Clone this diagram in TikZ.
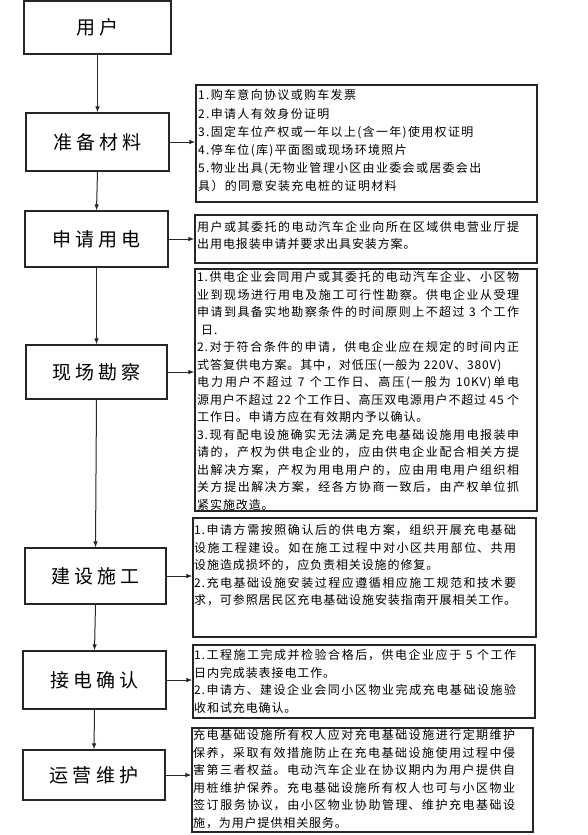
\documentclass[tikz,border=0pt]{standalone}
\usepackage{fontspec}
\usetikzlibrary{arrows.meta}
\newfontfamily\cjk[LetterSpace=7]{Noto Sans CJK SC}
\newfontfamily\cjkwide[LetterSpace=11]{Noto Sans CJK SC}
\newfontfamily\cjkbig[LetterSpace=22]{Noto Sans CJK SC}
\XeTeXlinebreaklocale "zh"
\XeTeXlinebreakskip=0.9pt plus 1pt minus 0.6pt
\begin{document}
\begin{tikzpicture}[x=1pt,y=-1pt,
  stage/.style={draw=black!85,line width=1.1pt,font=\cjkbig\fontsize{19}{21}\selectfont,inner sep=0pt},
  info/.style={draw=black!85,line width=1.1pt,inner sep=0pt},
  txt/.style={anchor=north west,inner sep=0pt,text width=322pt,align=justify,font=\cjk\fontsize{12}{17.5}\selectfont},
  listtxt/.style={anchor=north west,inner sep=0pt,align=left,font=\cjkwide\fontsize{12}{18.2}\selectfont},
  flow/.style={draw=black!85,line width=1pt,-{Latex[length=6pt,width=4.5pt]}}]
\useasboundingbox (0,0) rectangle (588,835);
\fill[white] (0,0) rectangle (588,835);

% left stages
\node[stage,minimum width=147pt,minimum height=53pt] (u) at (97.5,27.5) {用户};
\node[stage,minimum width=143pt,minimum height=58pt] (b) at (97.5,142) {准备材料};
\node[stage,minimum width=143pt,minimum height=56pt] (s) at (96.5,239) {申请用电};
\node[stage,minimum width=141pt,minimum height=54pt] (x) at (96.5,372) {现场勘察};
\node[stage,minimum width=141pt,minimum height=56pt] (j) at (95.5,576) {建设施工};
\node[stage,minimum width=143pt,minimum height=58pt] (d) at (94.5,680) {接电确认};
\node[stage,minimum width=142pt,minimum height=50pt] (y) at (94,775) {运营维护};

% right boxes
\node[info,minimum width=341pt,minimum height=117pt] (r1) at (366.5,143.5) {};
\node[info,minimum width=342pt,minimum height=48pt] (r2) at (366,239) {};
\node[info,minimum width=342pt,minimum height=242pt] (r3) at (366,390) {};
\node[info,minimum width=343pt,minimum height=119pt] (r4) at (364.5,577.5) {};
\node[info,minimum width=342pt,minimum height=73pt] (r5) at (364,681.5) {};
\node[info,minimum width=341pt,minimum height=104pt] (r6) at (362.5,780) {};

% texts
\node[listtxt] (t1) at (198,89.5) {1.购车意向协议或购车发票\\
2.申请人有效身份证明\\
3.固定车位产权或一年以上(含一年)使用权证明\\
4.停车位(库)平面图或现场环境照片\\
5.物业出具(无物业管理小区由业委会或居委会出\\
具）的同意安装充电桩的证明材料};

\node[txt] (t2) at (197,221) {用户或其委托的电动汽车企业向所在区域供电营业厅提\linebreak
出用电报装申请并要求出具安装方案。};

\node[txt] (t3) at (197,271.5) {1.供电企业会同用户或其委托的电动汽车企业、小区物\linebreak
业到现场进行用电及施工可行性勘察。供电企业从受理\linebreak
申请到具备实地勘察条件的时间原则上不超过 3 个工作\linebreak
\hspace*{4pt}日.\\
2.对于符合条件的申请，供电企业应在规定的时间内正\linebreak
式答复供电方案。其中，对低压(一般为 220V、380V)\\
电力用户不超过 7 个工作日、高压(一般为 10KV)单电\linebreak
源用户不超过 22 个工作日、高压双电源用户不超过 45 个\linebreak
工作日。申请方应在有效期内予以确认。\\
3.现有配电设施确实无法满足充电基础设施用电报装申\linebreak
请的，产权为供电企业的，应由供电企业配合相关方提\linebreak
出解决方案，产权为用电用户的，应由用电用户组织相\linebreak
关方提出解决方案，经各方协商一致后，由产权单位抓\linebreak
紧实施改造。};

\node[txt] (t4) at (194,524.5) {1.申请方需按照确认后的供电方案，组织开展充电基础\linebreak
设施工程建设。如在施工过程中对小区共用部位、共用\linebreak
设施造成损坏的，应负责相关设施的修复。\\
2.充电基础设施安装过程应遵循相应施工规范和技术要\linebreak
求，可参照居民区充电基础设施安装指南开展相关工作。\parfillskip=0pt\par};

\node[txt] (t5) at (194,649.5) {1.工程施工完成并检验合格后，供电企业应于 5 个工作\linebreak
日内完成装表接电工作。\\
2.申请方、建设企业会同小区物业完成充电基础设施验\linebreak
收和试充电确认。};

\node[txt] (t6) at (193,729.5) {充电基础设施所有权人应对充电基础设施进行定期维护\linebreak
保养，采取有效措施防止在充电基础设施使用过程中侵\linebreak
害第三者权益。电动汽车企业在协议期内为用户提供自\linebreak
用桩维护保养。充电基础设施所有权人也可与小区物业\linebreak
签订服务协议，由小区物业协助管理、维护充电基础设\linebreak
施，为用户提供相关服务。};

% vertical flow
\draw[flow] (u.south) -- (b.north);
\draw[flow] (b.south) -- (s.north);
\draw[flow] (s.south) -- (x.north);
\draw[flow] (x.south) -- (j.north);
\draw[flow] (j.south) -- (d.north);
\draw[flow] (d.south) -- (y.north);

% horizontal flow
\draw[flow] (b.east) -- (b.east -| r1.west);
\draw[flow] (s.east) -- (s.east -| r2.west);
\draw[flow] (x.east) -- (x.east -| r3.west);
\draw[flow] (j.east) -- (j.east -| r4.west);
\draw[flow] (d.east) -- (d.east -| r5.west);
\draw[flow] (y.east) -- (y.east -| r6.west);
\end{tikzpicture}
\end{document}
